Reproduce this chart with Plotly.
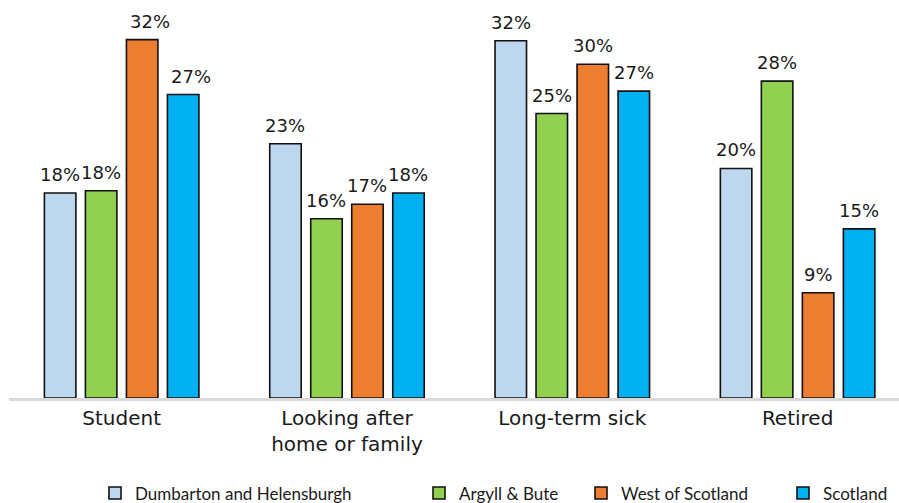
import plotly.graph_objects as go

# Economic inactivity reasons, share of economically inactive population (%)
categories = ["Student", "Looking after<br>home or family", "Long-term sick", "Retired"]
series_names = ["Dumbarton and Helensburgh", "Argyll & Bute", "West of Scotland", "Scotland"]
dumbarton_helensburgh = [18.3, 22.7, 31.9, 20.5]
argyll_bute = [18.5, 16.0, 25.4, 28.3]
west_of_scotland = [32.0, 17.3, 29.8, 9.4]
scotland = [27.1, 18.3, 27.4, 15.1]

series_values = [dumbarton_helensburgh, argyll_bute, west_of_scotland, scotland]
colors = ["#BDD7EE", "#92D050", "#ED7D31", "#00B0F0"]

# left edge of each legend entry, in px from the left of the page
legend_left_px = [95, 419, 581, 783]
# small horizontal nudges for a couple of value labels: (series, category) -> px
label_nudge = {(2, 0): 8, (3, 0): 8}

W, H = 899, 503
BARGAP = 0.272
BARGROUPGAP = 0.232
Y_MAX = 35.54

fig = go.Figure()
legend_ids = ["legend", "legend2", "legend3", "legend4"]
for i, (name, vals, col) in enumerate(zip(series_names, series_values, colors)):
    fig.add_trace(go.Bar(
        x=list(range(len(categories))),
        y=vals,
        name=name,
        marker=dict(color=col, line=dict(color="#111111", width=1.6)),
        legend=legend_ids[i],
        hoverinfo="skip",
    ))

# value labels above each bar
n = len(series_values)
slot = (1 - BARGAP) / n
annotations = []
for i, vals in enumerate(series_values):
    for j, v in enumerate(vals):
        annotations.append(dict(
            x=j + (i - (n - 1) / 2) * slot,
            y=v,
            xref="x", yref="y",
            text=f"{round(v)}%",
            showarrow=False,
            yanchor="bottom",
            xanchor="center",
            yshift=6,
            xshift=label_nudge.get((i, j), 0),
            font=dict(family="DejaVu Sans", size=18, color="#1a1a1a"),
        ))

legend_layout = {}
for k, lid in enumerate(legend_ids):
    legend_layout[lid] = dict(
        x=legend_left_px[k] / W, y=1 - 493.5 / H,
        xref="container", yref="container",
        xanchor="left", yanchor="middle",
        orientation="h",
        font=dict(family="Lato", size=17, color="#1a1a1a"),
        bgcolor="rgba(0,0,0,0)",
        itemclick=False, itemdoubleclick=False,
    )

fig.update_layout(
    width=W, height=H,
    margin=dict(l=9, r=0, t=0, b=H - 398),
    paper_bgcolor="white",
    plot_bgcolor="white",
    barmode="group",
    bargap=BARGAP,
    bargroupgap=BARGROUPGAP,
    annotations=annotations,
    showlegend=True,
    **legend_layout,
)

fig.update_xaxes(
    tickmode="array",
    tickvals=list(range(len(categories))),
    ticktext=categories,
    range=[-0.5, 3.45],
    showline=True, linecolor="#D9D9D9", linewidth=3,
    showgrid=False, zeroline=False, ticks="",
    tickfont=dict(family="DejaVu Sans", size=20, color="#1a1a1a"),
)
fig.update_yaxes(
    range=[0, Y_MAX],
    visible=False,
    showgrid=False, zeroline=False,
)

fig.write_html("out.html", config={"displayModeBar": False})
